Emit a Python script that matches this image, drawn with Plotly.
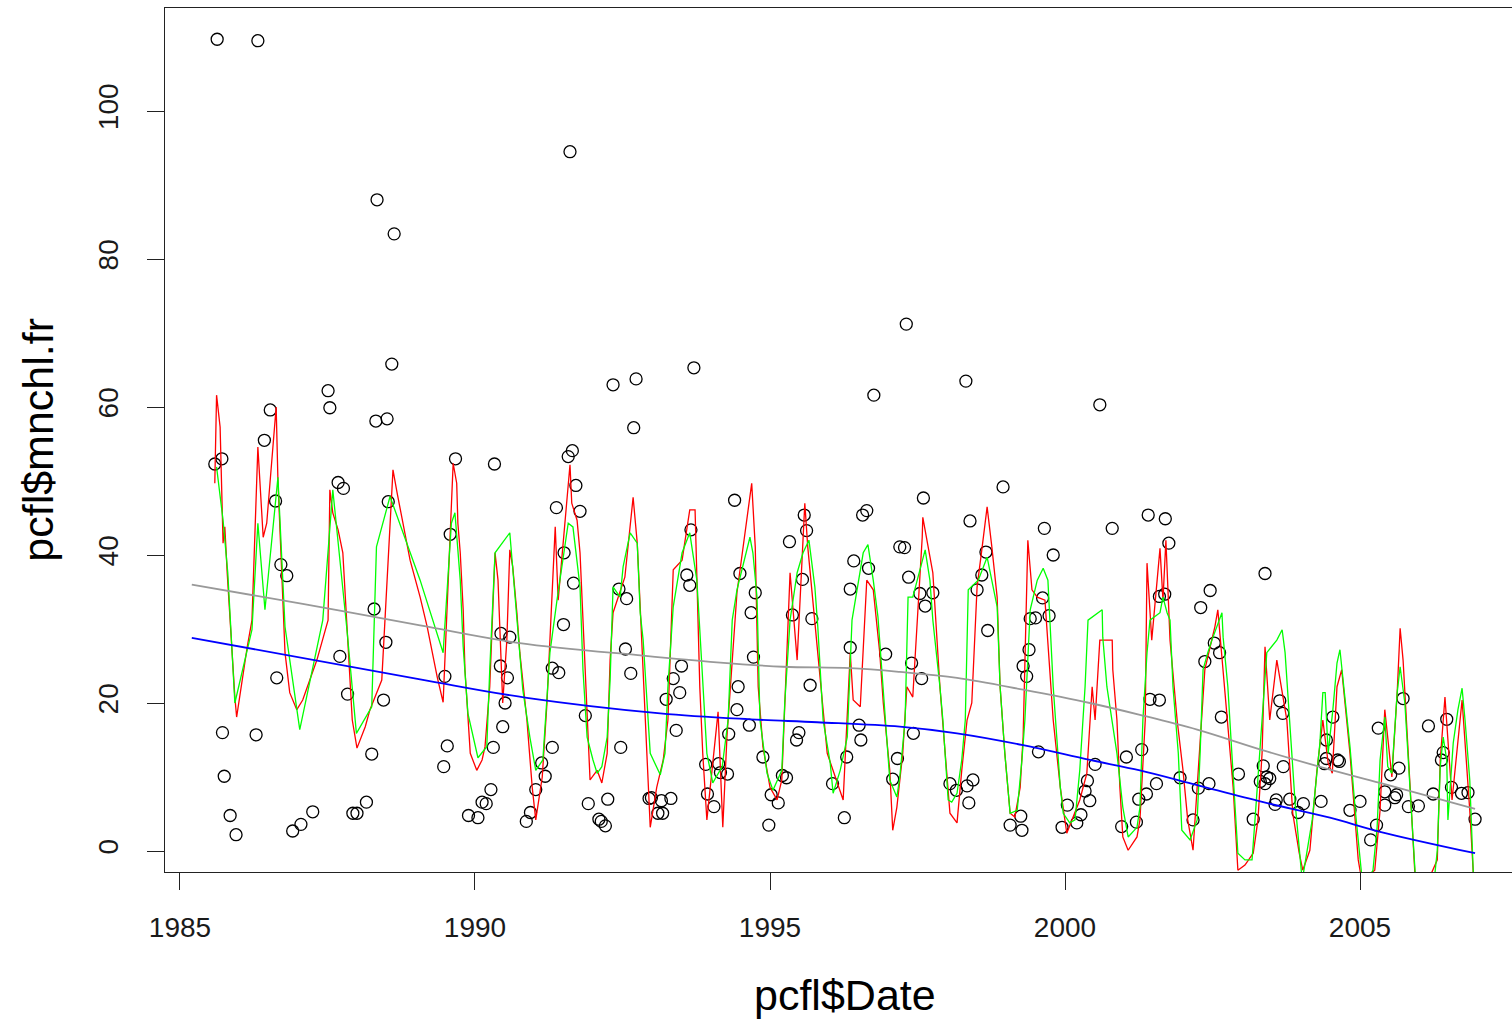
import plotly.graph_objects as go

# ---- observed points (pcfl$Date, pcfl$mnchl.fr) ----
point_dates = [
    1985.63, 1986.32, 1988.34, 1988.63, 1988.59, 1991.61, 1993.71, 1992.34, 1992.73, 1992.69,
    1997.31, 1996.76, 1998.32, 2000.59, 1987.51, 1987.54, 1988.32, 1988.51, 1986.53,
    1986.43, 1985.59, 1985.71, 1987.68, 1987.77, 1986.62, 1988.53, 1986.71, 1986.81, 1988.29,
    1988.49, 1987.71, 1986.64, 1987.84, 1988.45, 1985.72, 1986.29, 1988.25, 1985.75, 1988.16,
    1987.25, 1987.93, 1988.00, 1985.85, 1987.05, 1986.91, 1985.95,
    1989.67, 1990.33, 1991.65, 1991.58, 1991.71, 1991.38, 1991.78, 1989.58, 1991.51, 1991.67,
    1992.44, 1992.57, 1991.50,
    1990.44, 1990.59, 1992.55, 1991.31, 1991.42, 1990.43, 1990.55, 1992.64, 1989.49, 1990.51,
    1991.87, 1990.47, 1989.53, 1990.31, 1991.31, 1992.47, 1989.47, 1991.13, 1991.19, 1990.27,
    1991.03, 1990.12, 1990.19, 1991.92, 1992.25, 1989.89, 1990.05, 1990.94, 1990.87, 1992.10,
    1992.14, 1992.21, 1992.95, 1993.10,
    1994.40, 1996.64, 1996.57, 1995.58, 1995.62, 1993.66, 1995.33, 1996.42, 1996.67, 1993.59,
    1993.64, 1994.49, 1995.55, 1996.36, 1994.75, 1997.20, 1995.38, 1995.71, 1994.68,
    1996.36, 1996.96, 1994.72, 1993.50, 1993.36, 1993.47, 1994.46, 1995.68, 1993.24, 1994.44,
    1993.41, 1994.65, 1994.30, 1995.49, 1995.45, 1996.51, 1996.54, 1993.91, 1994.13, 1994.16,
    1994.28, 1994.88, 1996.30, 1997.16, 1995.21, 1995.28, 1997.08, 1996.06, 1992.99, 1993.16,
    1993.32, 1993.18, 1993.94, 1994.05, 1995.02, 1995.14, 1994.98, 1996.26,
    1998.95, 1997.60, 1998.39, 1999.65, 2000.80, 1997.28, 1999.80, 1998.66, 1997.35, 1998.59,
    1998.51, 1997.54, 1997.76, 1997.63, 1999.62, 1999.50, 1999.73, 1999.41,
    1998.69, 1999.39, 1999.29, 1999.35, 1997.40, 1997.57, 1997.43, 1999.55, 2000.51, 2001.04,
    1998.05, 1998.16, 1998.34, 1998.44, 1998.37, 2000.38, 2000.34, 2000.42, 2000.04, 2000.27,
    2000.20, 1999.95, 1999.07, 1999.25, 1999.27, 2000.96, 2001.21, 2001.30, 2001.25,
    2001.41, 2001.70, 2001.76, 2003.39, 2001.60, 2001.69, 2002.46, 2002.30,
    2002.53, 2002.62, 2002.37, 2001.44, 2001.60, 2002.65, 2003.64, 2003.69, 2004.54, 2005.31,
    2001.55, 2001.38, 2001.95, 2002.44, 2002.26, 2002.17, 2002.94, 2003.19, 2003.36, 2003.31,
    2003.42, 2003.47, 2003.39, 2003.70, 2003.58, 2003.56, 2003.81, 2004.04, 2003.95, 2004.34,
    2004.43, 2004.40, 2004.62, 2004.65, 2004.43, 2004.83, 2005.00, 2005.18, 2005.28,
    2006.16, 2006.47, 2005.73, 2006.41, 2006.38, 2005.66, 2005.52, 2005.42, 2005.59, 2005.62,
    2005.42, 2005.82, 2005.99, 2006.24, 2006.55, 2006.72, 2006.83, 2006.95,
]
point_values = [
    109.7, 109.5, 88.0, 83.4, 65.8, 94.5, 65.3, 63.0, 63.8, 57.2,
    71.2, 61.6, 63.5, 60.3, 62.2, 59.9, 58.1, 58.4, 59.6,
    55.5, 52.3, 53.0, 49.8, 49.0, 47.3, 47.2, 38.7, 37.2, 32.7,
    28.2, 26.3, 23.4, 21.2, 20.4, 16.0, 15.7, 13.1, 10.1, 6.6,
    5.3, 5.1, 5.1, 4.8, 3.6, 2.7, 2.2,
    53.0, 52.3, 54.1, 53.3, 49.4, 46.4, 45.9, 42.8, 40.3, 36.2,
    35.4, 34.1, 30.6,
    29.4, 28.9, 27.3, 24.7, 24.1, 25.0, 23.4, 24.0, 23.6, 20.0,
    18.3, 16.8, 14.2, 14.0, 14.0, 14.0, 11.4, 11.9, 10.1, 8.3,
    8.3, 6.6, 6.4, 6.4, 7.0, 4.8, 4.5, 5.2, 4.0, 4.3,
    4.0, 3.4, 7.1, 5.1,
    47.4, 46.0, 45.4, 45.4, 43.3, 43.4, 41.8, 39.2, 38.2, 37.3,
    35.9, 37.5, 36.7, 35.4, 34.9, 41.1, 31.9, 31.4, 32.2,
    27.5, 26.6, 26.2, 25.0, 23.3, 21.4, 22.2, 22.4, 20.5, 19.1,
    16.3, 17.0, 15.8, 16.0, 15.0, 17.0, 15.0, 11.7, 11.8, 10.6,
    10.4, 12.7, 12.7, 12.5, 10.2, 9.9, 9.7, 9.1, 7.2, 6.8,
    7.1, 5.1, 7.7, 6.0, 7.6, 6.5, 3.5, 4.5,
    49.2, 47.7, 44.6, 43.6, 43.6, 41.0, 40.0, 40.4, 37.0, 37.3,
    35.3, 34.8, 34.9, 33.1, 34.2, 31.5, 31.8, 31.4,
    29.8, 27.2, 25.0, 23.6, 25.4, 23.3, 15.9, 13.4, 11.7, 12.7,
    9.1, 8.2, 8.8, 9.6, 6.5, 9.5, 8.1, 6.8, 6.2, 4.9,
    3.8, 3.2, 3.5, 4.7, 2.8, 3.3, 3.9, 13.7, 7.0,
    45.4, 44.9, 41.6, 37.5, 34.4, 34.7, 35.2, 32.9,
    28.1, 26.8, 25.6, 20.5, 20.4, 18.1, 20.3, 18.6, 18.1, 16.6,
    9.1, 7.7, 9.9, 9.1, 8.5, 4.2, 10.4, 4.3, 11.5, 9.4,
    10.0, 9.8, 9.1, 11.4, 6.9, 6.3, 7.0, 6.4, 5.2, 6.7,
    12.5, 11.8, 12.3, 12.1, 15.0, 5.5, 6.7, 1.5, 3.5,
    16.9, 17.8, 20.6, 13.3, 12.3, 11.2, 10.3, 8.0, 7.2, 7.6,
    6.2, 6.0, 6.1, 7.7, 8.6, 7.8, 7.9, 4.3,
]

# ---- red fitted line ----
red_dates = [
    1985.59, 1985.62, 1985.68, 1985.73, 1985.76, 1985.80, 1985.93, 1985.96, 1986.14, 1986.22,
    1986.32, 1986.41, 1986.47, 1986.63, 1986.66, 1986.75, 1986.78, 1986.86, 1986.98, 1987.08,
    1987.32, 1987.51, 1987.54, 1987.59, 1987.68, 1987.76, 1987.83, 1987.92, 1988.00, 1988.14,
    1988.22, 1988.42, 1988.61, 1988.68, 1988.90, 1989.07, 1989.19, 1989.36, 1989.46, 1989.63,
    1989.69, 1989.71, 1989.75, 1989.80, 1989.83, 1989.92, 1990.03, 1990.12, 1990.17, 1990.25,
    1990.34, 1990.39, 1990.47, 1990.54, 1990.59, 1990.64, 1990.71, 1990.76, 1990.88, 1990.97,
    1991.03, 1991.14, 1991.22, 1991.36, 1991.41, 1991.61, 1991.64, 1991.73, 1991.78, 1991.90,
    1991.95, 1992.07, 1992.15, 1992.24, 1992.29, 1992.34, 1992.54, 1992.68, 1992.75, 1992.80,
    1992.85, 1992.92, 1992.97, 1993.08, 1993.19, 1993.27, 1993.31, 1993.36, 1993.51, 1993.64,
    1993.73, 1993.81, 1993.86, 1993.93, 1994.12, 1994.20, 1994.27, 1994.44, 1994.69, 1994.75,
    1994.80, 1994.88, 1995.00, 1995.12, 1995.20, 1995.25, 1995.34, 1995.46, 1995.59, 1995.64,
    1995.76, 1995.97, 1996.24, 1996.36, 1996.41, 1996.53, 1996.64, 1996.75, 1996.86, 1996.92,
    1997.03, 1997.08, 1997.15, 1997.25, 1997.32, 1997.42, 1997.58, 1997.59, 1997.76, 1997.88,
    1998.05, 1998.17, 1998.25, 1998.34, 1998.42, 1998.51, 1998.59, 1998.68, 1998.76, 1998.85,
    1998.90, 1998.98, 1999.07, 1999.15, 1999.24, 1999.29, 1999.37, 1999.44, 1999.53, 1999.66,
    1999.80, 1999.92, 2000.03, 2000.25, 2000.37, 2000.42, 2000.46, 2000.51, 2000.59, 2000.80,
    2000.81, 2000.88, 2000.93, 2000.98, 2001.07, 2001.22, 2001.27, 2001.36, 2001.39, 2001.47,
    2001.61, 2001.66, 2001.71, 2001.78, 2001.90, 2002.00, 2002.08, 2002.17, 2002.29, 2002.37,
    2002.46, 2002.54, 2002.59, 2002.68, 2002.76, 2002.85, 2002.93, 2003.05, 2003.19, 2003.27,
    2003.34, 2003.39, 2003.47, 2003.59, 2003.76, 2003.86, 2003.97, 2004.03, 2004.15, 2004.27,
    2004.37, 2004.46, 2004.53, 2004.61, 2004.69, 2004.78, 2004.83, 2004.97, 2005.03, 2005.25,
    2005.34, 2005.42, 2005.54, 2005.63, 2005.68, 2005.73, 2005.80, 2005.88, 2005.93, 2006.10,
    2006.31, 2006.36, 2006.44, 2006.56, 2006.73, 2006.86, 2006.92, 2006.95,
]
red_values = [
    49.7, 61.6, 57.3, 41.6, 43.8, 37.6, 20.8, 18.1, 27.6, 31.2,
    54.6, 42.4, 44.3, 60.0, 50.1, 32.2, 26.8, 21.4, 19.1, 20.4,
    25.8, 31.2, 48.8, 45.7, 43.4, 40.3, 29.9, 17.7, 13.9, 16.8,
    19.1, 23.1, 51.5, 48.4, 39.3, 34.3, 30.3, 23.5, 20.1, 52.4,
    49.7, 44.3, 40.3, 32.6, 24.5, 13.2, 10.9, 12.3, 14.1, 22.2,
    40.3, 36.6, 20.0, 28.5, 40.7, 38.4, 32.2, 26.8, 17.7, 8.6,
    4.2, 10.0, 20.0, 43.8, 33.9, 52.2, 47.0, 44.7, 40.3, 17.7,
    9.6, 10.9, 9.2, 13.2, 25.8, 32.2, 37.0, 47.8, 41.6, 33.0,
    24.5, 10.9, 3.2, 8.6, 12.3, 17.7, 26.8, 38.0, 39.3, 46.1,
    46.1, 22.2, 13.2, 4.2, 18.8, 3.2, 15.4, 34.9, 49.7, 41.1,
    22.2, 14.1, 8.6, 6.9, 9.6, 20.4, 37.6, 25.8, 47.0, 41.1,
    31.2, 13.2, 6.9, 26.8, 20.4, 19.5, 36.6, 35.3, 26.8, 20.0,
    10.9, 2.8, 5.9, 13.2, 22.2, 20.8, 42.4, 45.1, 37.6, 22.2,
    5.1, 3.8, 10.9, 17.7, 20.0, 35.7, 40.7, 46.5, 41.1, 34.3,
    22.2, 13.2, 5.1, 4.6, 8.6, 15.4, 42.0, 35.3, 34.3, 33.9,
    17.7, 8.6, 2.4, 6.9, 10.5, 17.7, 22.2, 17.7, 28.5, 28.5,
    24.5, 17.7, 8.6, 1.9, 0.1, 1.9, 4.2, 17.7, 38.9, 28.5,
    40.9, 33.9, 42.0, 28.5, 17.7, 10.9, 4.2, 0.1, 15.4, 24.5,
    27.6, 30.3, 32.6, 24.5, 17.7, 8.6, -2.6, -1.9, -0.3, 4.2,
    13.2, 27.6, 17.7, 25.8, 17.7, 5.1, -0.3, -2.6, 0.1, 10.9,
    17.7, 11.9, 10.5, 22.2, 24.5, 16.8, 13.2, -1.2, -4.0, -2.6,
    5.5, 19.1, 10.0, 21.4, 30.1, 25.8, 15.9, 5.5, -3.0, -5.0,
    -1.2, 12.3, 20.8, 6.9, 20.4, 5.5, -3.0, -5.0,
]

# ---- green fitted line ----
green_dates = [
    1985.62, 1985.73, 1985.81, 1985.93, 1986.22, 1986.32, 1986.44, 1986.66, 1986.78, 1987.03,
    1987.42, 1987.59, 1987.83, 1987.99, 1988.25, 1988.33, 1988.56, 1989.07, 1989.46, 1989.60,
    1989.66, 1989.75, 1989.80, 1989.88, 1990.05, 1990.20, 1990.25, 1990.34, 1990.59, 1990.71,
    1990.81, 1990.93, 1991.03, 1991.15, 1991.27, 1991.39, 1991.58, 1991.66, 1991.78, 1991.83,
    1991.90, 1992.00, 1992.07, 1992.15, 1992.24, 1992.29, 1992.34, 1992.46, 1992.51, 1992.63,
    1992.75, 1992.80, 1992.85, 1992.97, 1993.14, 1993.22, 1993.27, 1993.36, 1993.51, 1993.64,
    1993.76, 1993.81, 1993.86, 1993.93, 1994.03, 1994.19, 1994.29, 1994.36, 1994.44, 1994.66,
    1994.71, 1994.78, 1994.83, 1994.95, 1995.05, 1995.20, 1995.25, 1995.34, 1995.46, 1995.56,
    1995.66, 1995.76, 1995.81, 1995.90, 1996.02, 1996.07, 1996.19, 1996.31, 1996.39, 1996.58,
    1996.66, 1996.75, 1996.83, 1996.95, 1997.03, 1997.15, 1997.20, 1997.29, 1997.34, 1997.42,
    1997.63, 1997.71, 1997.76, 1997.88, 1997.93, 1998.02, 1998.08, 1998.17, 1998.25, 1998.31,
    1998.36, 1998.53, 1998.68, 1998.85, 1998.90, 1998.98, 1999.07, 1999.19, 1999.27, 1999.32,
    1999.41, 1999.53, 1999.63, 1999.71, 1999.80, 1999.86, 1999.92, 1999.97, 2000.08, 2000.17,
    2000.25, 2000.34, 2000.39, 2000.63, 2000.64, 2000.71, 2000.88, 2000.98, 2001.07, 2001.22,
    2001.27, 2001.32, 2001.39, 2001.44, 2001.61, 2001.66, 2001.73, 2001.78, 2001.83, 2001.92,
    2001.98, 2002.12, 2002.24, 2002.29, 2002.34, 2002.42, 2002.49, 2002.66, 2002.68, 2002.76,
    2002.85, 2002.93, 2003.05, 2003.17, 2003.22, 2003.34, 2003.42, 2003.59, 2003.68, 2003.73,
    2003.81, 2003.90, 2004.02, 2004.19, 2004.32, 2004.37, 2004.41, 2004.46, 2004.54, 2004.61,
    2004.66, 2004.75, 2004.83, 2004.92, 2005.05, 2005.22, 2005.29, 2005.34, 2005.42, 2005.47,
    2005.54, 2005.63, 2005.68, 2005.76, 2005.85, 2005.95, 2006.27, 2006.31, 2006.36, 2006.41,
    2006.47, 2006.49, 2006.58, 2006.66, 2006.73, 2006.78, 2006.86, 2006.92, 2006.95,
]
green_values = [
    51.9, 44.7, 37.6, 20.0, 29.9, 44.3, 32.6, 50.5, 30.3, 16.4,
    31.2, 48.8, 29.9, 15.9, 19.5, 41.1, 47.9, 36.6, 26.8, 44.3,
    45.7, 36.6, 27.6, 18.6, 12.6, 14.1, 24.5, 40.3, 43.0, 30.8,
    21.8, 15.4, 10.9, 12.3, 26.8, 33.9, 44.3, 43.8, 35.7, 24.5,
    15.4, 12.3, 10.5, 11.4, 15.4, 23.1, 35.7, 34.3, 38.4, 43.0,
    41.6, 32.2, 28.5, 13.2, 10.3, 13.2, 22.2, 33.0, 40.3, 43.0,
    36.6, 29.9, 22.2, 13.2, 9.2, 11.4, 17.7, 31.2, 35.3, 42.4,
    40.3, 34.3, 17.7, 10.5, 8.2, 10.9, 20.0, 31.2, 37.6, 40.3,
    42.0, 35.7, 30.3, 17.7, 11.9, 7.8, 10.9, 15.4, 31.2, 40.3,
    41.4, 36.6, 31.6, 17.7, 9.6, 7.3, 10.0, 17.7, 34.3, 34.3,
    40.7, 36.6, 31.2, 22.2, 17.7, 6.9, 6.6, 7.8, 12.3, 17.7,
    35.3, 36.6, 39.7, 33.0, 22.2, 13.2, 5.1, 5.5, 12.3, 17.7,
    32.6, 36.6, 38.2, 36.6, 22.2, 15.4, 8.6, 5.1, 3.8, 4.2,
    10.9, 22.2, 31.2, 32.6, 28.9, 22.2, 13.2, 5.9, 1.9, 3.2,
    5.9, 17.7, 26.8, 31.2, 32.2, 34.3, 32.2, 31.2, 22.2, 13.2,
    2.8, 1.5, 4.2, 13.2, 24.5, 26.8, 28.5, 32.2, 28.9, 22.2,
    10.9, -0.3, -1.2, -1.2, 4.2, 17.7, 26.8, 28.5, 29.9, 26.8,
    17.7, 6.5, -4.0, 4.2, 14.6, 21.4, 21.4, 13.2, 19.1, 25.4,
    27.2, 20.4, 14.1, 5.5, -5.0, -2.6, 3.2, 12.3, 18.1, 11.4,
    10.5, 21.4, 24.9, 20.0, 7.8, -5.0, -3.0, 0.1, 11.4, 15.4,
    12.3, 4.2, 14.6, 19.1, 22.0, 17.7, 9.6, -3.0, -5.0,
]

# ---- smooth trend lines ----
gray_dates = [1985.20, 1987.08, 1989.07, 1990.76, 1992.85, 1994.10, 1995.22, 1996.36, 1997.20,
              1998.17, 1999.29, 2000.42, 2001.27, 2002.24, 2003.36, 2004.49, 2005.34, 2006.95]
gray_values = [36.0, 33.4, 30.5, 28.1, 26.4, 25.5, 24.9, 24.7, 24.2,
               23.4, 21.8, 20.0, 18.4, 16.4, 13.6, 11.0, 9.2, 5.7]

blue_dates = [1985.20, 1989.07, 1990.88, 1993.14, 1994.66, 1995.80, 1997.20, 1998.17, 1999.29,
              2000.42, 2001.27, 2002.24, 2003.36, 2004.49, 2005.34, 2006.95]
blue_values = [28.8, 23.2, 20.7, 18.6, 17.8, 17.4, 16.8, 15.9, 14.3,
               12.3, 10.9, 8.9, 6.6, 4.5, 2.6, -0.3]

x_ticks = [1985, 1990, 1995, 2000, 2005]
y_ticks = [0, 20, 40, 60, 80, 100]

FONT = "Liberation Sans, Arial, sans-serif"

fig = go.Figure()
fig.add_trace(go.Scatter(x=point_dates, y=point_values, mode="markers",
                         marker=dict(symbol="circle-open", size=12, color="black",
                                     line=dict(width=1.3)),
                         showlegend=False, hoverinfo="skip"))
fig.add_trace(go.Scatter(x=red_dates, y=red_values, mode="lines",
                         line=dict(color="#FF0000", width=1.3), showlegend=False))
fig.add_trace(go.Scatter(x=green_dates, y=green_values, mode="lines",
                         line=dict(color="#00FF00", width=1.3), showlegend=False))
fig.add_trace(go.Scatter(x=gray_dates, y=gray_values, mode="lines",
                         line=dict(color="#999999", width=1.8, shape="spline"), showlegend=False))
fig.add_trace(go.Scatter(x=blue_dates, y=blue_values, mode="lines",
                         line=dict(color="#0000FF", width=1.8, shape="spline"), showlegend=False))

fig.update_layout(
    width=1512, height=1027,
    margin=dict(l=165, r=0, t=8, b=155),
    paper_bgcolor="white", plot_bgcolor="white",
    font=dict(family=FONT, color="#1a1a1a"),
    xaxis=dict(range=[1984.746, 2007.576], tickvals=x_ticks, ticktext=[str(v) for v in x_ticks],
               showgrid=False, zeroline=False, showline=True, linecolor="#222", linewidth=1.2,
               mirror=True, ticks="outside", ticklen=17, tickwidth=1.2, tickcolor="#222",
               tickfont=dict(size=28, family=FONT, color="#1a1a1a"), ticklabelstandoff=13),
    yaxis=dict(range=[-2.838, 113.92], tickvals=y_ticks, ticktext=[str(v) for v in y_ticks],
               showgrid=False, zeroline=False, showline=True, linecolor="#222", linewidth=1.2,
               mirror=False, ticks="outside", ticklen=17, tickwidth=1.2, tickcolor="#222",
               tickangle=-90, tickfont=dict(size=28, family=FONT, color="#1a1a1a"),
               ticklabelstandoff=18),
    annotations=[
        dict(text="pcfl$Date", xref="paper", yref="paper", x=0.5048, y=-0.1424,
             xanchor="center", yanchor="middle", showarrow=False,
             font=dict(size=43, family=FONT, color="black")),
        dict(text="pcfl$mnchl.fr", xref="paper", yref="paper", x=-0.0945, y=0.5,
             xanchor="center", yanchor="middle", showarrow=False, textangle=-90,
             font=dict(size=43, family=FONT, color="black")),
    ],
)

fig.write_html("out.html")
